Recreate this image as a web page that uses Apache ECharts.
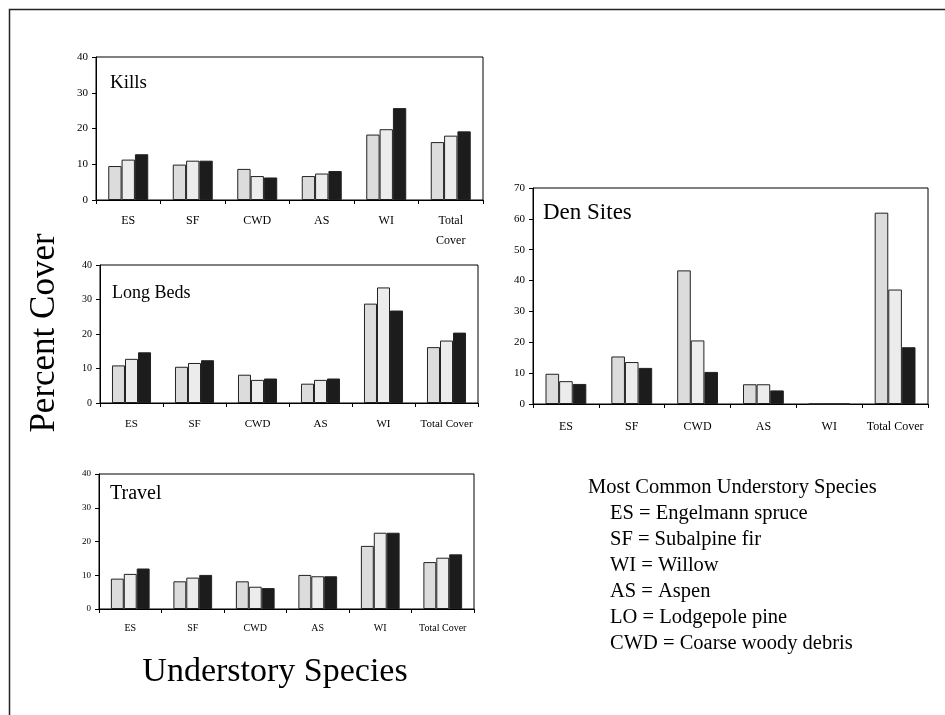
<!DOCTYPE html>
<html>
<head>
<meta charset="utf-8">
<script src="https://cdn.jsdelivr.net/npm/echarts@6/dist/echarts.min.js"></script>
<style>
html,body{margin:0;padding:0;background:#fff;}
#c{width:945px;height:715px;}
</style>
</head>
<body>
<div id="c"></div>
<script>
// ---- data ----
var categories = ['ES', 'SF', 'CWD', 'AS', 'WI', 'Total Cover'];
var killsCategories = ['ES', 'SF', 'CWD', 'AS', 'WI', 'Total\nCover'];

var kills1 = [9.5, 9.9, 8.7, 6.7, 18.3, 16.2];
var kills2 = [11.3, 11.0, 6.7, 7.4, 19.8, 18.0];
var kills3 = [12.8, 11.0, 6.3, 8.1, 25.7, 19.2];

var beds1 = [10.9, 10.5, 8.2, 5.6, 28.8, 16.2];
var beds2 = [12.8, 11.6, 6.7, 6.7, 33.5, 18.1];
var beds3 = [14.7, 12.4, 7.1, 7.1, 26.8, 20.4];

var travel1 = [9.0, 8.2, 8.2, 10.1, 18.7, 13.9];
var travel2 = [10.4, 9.3, 6.6, 9.7, 22.6, 15.2];
var travel3 = [12.0, 10.1, 6.2, 9.7, 22.6, 16.2];

var den1 = [9.8, 15.4, 43.3, 6.4, 0, 62.0];
var den2 = [7.4, 13.6, 20.6, 6.4, 0, 37.1];
var den3 = [6.5, 11.7, 10.4, 4.4, 0, 18.4];

var panelTitles = ['Kills', 'Long Beds', 'Travel', 'Den Sites'];
var yMax = [40, 40, 40, 70];
var legendLines = [
  'Most Common Understory Species',
  'ES = Engelmann spruce',
  'SF = Subalpine fir',
  'WI = Willow',
  'AS = Aspen',
  'LO = Lodgepole pine',
  'CWD = Coarse woody debris'
];

// ---- layout ----
var FONT = '"Liberation Serif", "DejaVu Serif", serif';
var colors = ['#dcdcdc', '#ececec', '#1c1c1c'];
var grids = [
  {left: 96, top: 57, width: 387, height: 143},
  {left: 100, top: 265, width: 378, height: 138},
  {left: 99, top: 474, width: 375, height: 135},
  {left: 533, top: 188, width: 395, height: 216}
];
var xLabelSize = [12, 11, 10, 12];
var xLabelMargin = [11, 11, 9, 13];
var yLabelSize = [11, 10, 9, 11];

var panels = [
  [kills1, kills2, kills3],
  [beds1, beds2, beds3],
  [travel1, travel2, travel3],
  [den1, den2, den3]
];

var option = {
  animation: false,
  backgroundColor: '#ffffff',
  grid: grids.map(function (g) {
    return Object.assign({show: true, borderColor: '#000', borderWidth: 1, backgroundColor: 'transparent'}, g);
  }),
  xAxis: grids.map(function (g, i) {
    return {
      type: 'category',
      gridIndex: i,
      data: i === 0 ? killsCategories : categories,
      axisLine: {lineStyle: {color: '#000', width: 1}},
      axisTick: {show: true, length: 4, lineStyle: {color: '#000'}},
      axisLabel: {color: '#000', fontFamily: FONT, fontSize: xLabelSize[i], margin: xLabelMargin[i], interval: 0, lineHeight: 20},
      splitLine: {show: false}
    };
  }),
  yAxis: grids.map(function (g, i) {
    return {
      type: 'value',
      gridIndex: i,
      min: 0,
      max: yMax[i],
      interval: 10,
      axisLine: {show: true, lineStyle: {color: '#000', width: 1}},
      axisTick: {show: true, length: 4, lineStyle: {color: '#000'}},
      axisLabel: {color: '#000', fontFamily: FONT, fontSize: yLabelSize[i], margin: 8},
      splitLine: {show: false}
    };
  }),
  series: [],
  graphic: []
};

panels.forEach(function (sets, i) {
  sets.forEach(function (vals, k) {
    option.series.push({
      type: 'bar',
      xAxisIndex: i,
      yAxisIndex: i,
      data: vals,
      barGap: '0%',
      barCategoryGap: '38%',
      itemStyle: {color: colors[k], borderColor: '#222', borderWidth: 1}
    });
  });
});

var titlePos = [[110, 83, 19], [112, 293, 18], [110, 494, 20], [543, 213, 23]];
panelTitles.forEach(function (t, i) {
  option.graphic.push({
    type: 'text', x: titlePos[i][0], y: titlePos[i][1],
    style: {text: t, font: titlePos[i][2] + 'px ' + FONT, fill: '#000', textAlign: 'left', textVerticalAlign: 'middle'}
  });
});

// frame
option.graphic.push({
  type: 'rect', shape: {x: 9.5, y: 9.5, width: 1000, height: 1000},
  style: {fill: 'none', stroke: '#222', lineWidth: 1.5}, silent: true
});

// axis titles
option.graphic.push({
  type: 'text', x: 45, y: 333, rotation: Math.PI / 2,
  style: {text: 'Percent Cover', font: '35px ' + FONT, fill: '#000', textAlign: 'center', textVerticalAlign: 'middle'}
});
option.graphic.push({
  type: 'text', x: 275, y: 672,
  style: {text: 'Understory Species', font: '34px ' + FONT, fill: '#000', textAlign: 'center', textVerticalAlign: 'middle'}
});

legendLines.forEach(function (l, j) {
  option.graphic.push({
    type: 'text', x: j === 0 ? 588 : 610, y: 488 + j * 26,
    style: {text: l, font: '20.5px ' + FONT, fill: '#000', textAlign: 'left', textVerticalAlign: 'middle'}
  });
});

var chart = echarts.init(document.getElementById('c'), null, {renderer: 'canvas'});
chart.setOption(option);
</script>
</body>
</html>
